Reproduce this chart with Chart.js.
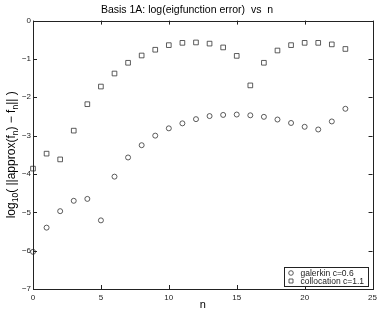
<!DOCTYPE html>
<html>
<head>
    <title>Basis 1A: log(eigfunction error) vs n</title>
    <style>
        html, body { margin: 0; padding: 0; background: #fff; }
        #wrap { width: 381px; height: 314px; }
    </style>
    <script src="https://cdn.jsdelivr.net/npm/chart.js"></script>
</head>
<body>
    <div id="wrap"><canvas id="myChart"></canvas></div>
    <script>
        // datos
        var n = [0, 1, 2, 3, 4, 5, 6, 7, 8, 9, 10, 11, 12, 13, 14, 15, 16, 17, 18, 19, 20, 21, 22, 23];
        var galerkin = [-6.03, -5.40, -4.97, -4.70, -4.65, -5.21, -4.07, -3.57, -3.25, -3.00, -2.81, -2.68,
                        -2.57, -2.49, -2.46, -2.45, -2.47, -2.51, -2.58, -2.67, -2.77, -2.84, -2.63, -2.30];
        var collocation = [-3.86, -3.47, -3.62, -2.87, -2.18, -1.72, -1.38, -1.10, -0.91, -0.76, -0.64, -0.58,
                           -0.57, -0.60, -0.70, -0.92, -1.69, -1.10, -0.78, -0.64, -0.58, -0.58, -0.62, -0.74];
        var xTicks = [0, 5, 10, 15, 20, 25];
        var yTicks = [0, -1, -2, -3, -4, -5, -6, -7];
        var labels = ['galerkin c=0.6', 'collocation c=1.1'];

        var fontFam = '"Liberation Sans", Arial, Helvetica, sans-serif';
        var ink = '#222';

        function toPoints(ys) {
            return n.map((x, i) => ({ x: x, y: ys[i] }));
        }

        // etiqueta del eje y con subindices de verdad
        var yLabel = [
            { t: 'log', s: 12, dy: 0 }, { t: '10', s: 8.5, dy: 3.5 },
            { t: '( ||approx(f', s: 12, dy: 0 }, { t: 'n', s: 8.5, dy: 3.5 },
            { t: ') \u2212 f', s: 12, dy: 0 }, { t: 'n', s: 8.5, dy: 3.5 },
            { t: '|| )', s: 12, dy: 0 }
        ];

        // caja, marcas hacia adentro y leyenda estilo matlab
        var frame = {
            id: 'frame',
            afterDraw(chart) {
                var ctx = chart.ctx, a = chart.chartArea;
                var xs = chart.scales.x, ys = chart.scales.y;
                ctx.save();
                ctx.strokeStyle = ink;
                ctx.lineWidth = 1;
                ctx.strokeRect(Math.round(a.left) + 0.5, Math.round(a.top) + 0.5,
                    Math.round(a.right - a.left), Math.round(a.bottom - a.top));
                ctx.beginPath();
                xTicks.forEach(v => {
                    var px = Math.round(xs.getPixelForValue(v)) + 0.5;
                    ctx.moveTo(px, a.bottom); ctx.lineTo(px, a.bottom - 4);
                    ctx.moveTo(px, a.top); ctx.lineTo(px, a.top + 4);
                });
                yTicks.forEach(v => {
                    var py = Math.round(ys.getPixelForValue(v)) + 0.5;
                    ctx.moveTo(a.left, py); ctx.lineTo(a.left + 4, py);
                    ctx.moveTo(a.right, py); ctx.lineTo(a.right - 4, py);
                });
                ctx.stroke();

                // titulo del eje y
                ctx.save();
                ctx.translate(12, (a.top + a.bottom) / 2);
                ctx.rotate(-Math.PI / 2);
                ctx.fillStyle = '#000';
                ctx.textBaseline = 'middle';
                ctx.textAlign = 'left';
                var total = 0;
                yLabel.forEach(p => { ctx.font = p.s + 'px ' + fontFam; total += ctx.measureText(p.t).width; });
                var cx = -total / 2;
                yLabel.forEach(p => {
                    ctx.font = p.s + 'px ' + fontFam;
                    ctx.fillText(p.t, cx, p.dy);
                    cx += ctx.measureText(p.t).width;
                });
                ctx.restore();

                // leyenda
                ctx.font = '8.5px ' + fontFam;
                var w = Math.max(...labels.map(t => ctx.measureText(t).width));
                var bw = Math.round(w + 20), bh = 19;
                var bx = Math.round(a.right - 5 - bw) + 0.5, by = Math.round(a.bottom - 3 - bh) + 0.5;
                ctx.fillStyle = '#fff';
                ctx.fillRect(bx, by, bw, bh);
                ctx.strokeStyle = ink;
                ctx.strokeRect(bx, by, bw, bh);
                ctx.fillStyle = ink;
                ctx.textBaseline = 'middle';
                chart.data.datasets.forEach((ds, i) => {
                    var cy = by + 5.5 + i * 8;
                    ctx.strokeStyle = ds.borderColor;
                    ctx.lineWidth = ds.borderWidth;
                    ctx.beginPath();
                    if (ds.pointStyle === 'circle') {
                        ctx.arc(bx + 6.5, cy, 2.3, 0, Math.PI * 2);
                    } else {
                        ctx.rect(bx + 4.5, cy - 2, 4, 4);
                    }
                    ctx.stroke();
                    ctx.fillText(labels[i], bx + 16, cy + 0.5);
                });
                ctx.restore();
            }
        };

        var ctx = document.getElementById('myChart').getContext('2d');
        var myChart = new Chart(ctx, {
            type: 'scatter',
            data: {
                datasets: [{
                    label: labels[0],
                    data: toPoints(galerkin),
                    pointStyle: 'circle',
                    pointRadius: 2.5,
                    borderWidth: 0.8,
                    borderColor: '#333',
                    backgroundColor: 'rgba(0,0,0,0)',
                    clip: false
                },
                {
                    label: labels[1],
                    data: toPoints(collocation),
                    pointStyle: 'rect',
                    pointRadius: 3.3,
                    borderWidth: 0.8,
                    borderColor: '#333',
                    backgroundColor: 'rgba(0,0,0,0)',
                    clip: false
                }]
            },
            options: {
                responsive: true,
                maintainAspectRatio: false,
                animation: false,
                layout: { padding: { left: 0, right: 7, top: 0, bottom: 0 } },
                plugins: {
                    legend: { display: false },
                    tooltip: { enabled: false },
                    title: {
                        display: true,
                        text: 'Basis 1A: log(eigfunction error)  vs  n',
                        color: '#000',
                        font: { family: fontFam, size: 10.5, weight: 'normal', lineHeight: 1.2 },
                        padding: { top: 4, bottom: 4 }
                    }
                },
                scales: {
                    x: {
                        type: 'linear',
                        min: 0,
                        max: 25,
                        afterBuildTicks: s => { s.ticks = xTicks.map(v => ({ value: v })); },
                        afterFit: s => { s.height = 25; },
                        grid: { display: false, drawTicks: false },
                        border: { display: false },
                        ticks: { color: ink, padding: 4, font: { family: fontFam, size: 8 } },
                        title: {
                            display: true,
                            text: 'n',
                            color: '#000',
                            font: { family: fontFam, size: 11, lineHeight: 1.2 },
                            padding: { top: 0, bottom: 2 }
                        }
                    },
                    y: {
                        type: 'linear',
                        min: -7,
                        max: 0,
                        afterBuildTicks: s => { s.ticks = yTicks.map(v => ({ value: v })); },
                        afterFit: s => { s.width = 33; },
                        grid: { display: false, drawTicks: false },
                        border: { display: false },
                        ticks: {
                            color: ink,
                            padding: 2,
                            font: { family: fontFam, size: 8 },
                            callback: v => (v < 0 ? '\u2212' + Math.abs(v) : '' + v)
                        }
                    }
                }
            },
            plugins: [frame]
        });
    </script>
</body>
</html>
